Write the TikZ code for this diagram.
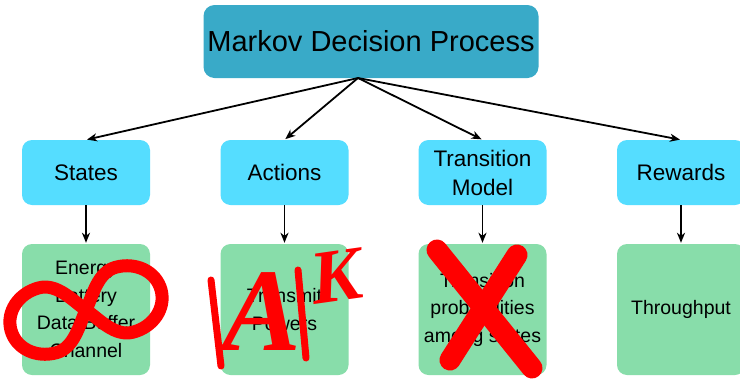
\documentclass[tikz,border=0pt]{standalone}
\usepackage{fontspec}
\setmainfont{Liberation Sans}
\newfontfamily\annfont{Liberation Serif}
\usetikzlibrary{arrows.meta}
\definecolor{titlecol}{HTML}{39AAC8}
\definecolor{rowcol}{HTML}{55DDFF}
\definecolor{leafcol}{HTML}{88DDAA}
\definecolor{inkred}{HTML}{FF0000}
\begin{document}
\begin{tikzpicture}[x=1pt,y=-1pt,
  titlebox/.style={fill=titlecol, rounded corners=11pt, minimum width=335pt, minimum height=73pt, inner sep=0pt, font=\fontsize{29}{34}\selectfont},
  catbox/.style={fill=rowcol, rounded corners=10pt, minimum width=128pt, minimum height=65pt, inner sep=0pt, align=center, font=\fontsize{22.5}{29}\selectfont},
  leafbox/.style={fill=leafcol, rounded corners=10pt, minimum width=128pt, minimum height=131pt, inner sep=0pt, align=center, font=\fontsize{19.5}{27.5}\selectfont},
  link/.style={line width=1.8pt, shorten >=1pt, -{Stealth[length=10pt,width=8pt,inset=3pt]}},
  ink/.style={draw=inkred, line cap=round, line join=round}
]
\useasboundingbox (0,0) rectangle (740,381);
\fill[white] (0,0) rectangle (740,381);

\node[titlebox] (mdp) at (371,41.5) {Markov Decision Process};

\node[catbox] (s) at (86,172.5) {States};
\node[catbox] (a) at (284.5,172.5) {Actions};
\node[catbox] (t) at (482.5,172.5) {Transition\\Model};
\node[catbox] (r) at (681,172.5) {Rewards};

\node[leafbox] (s3) at (86,309.5) {Energy\\Battery\\Data Buffer\\Channel};
\node[leafbox] (a3) at (284.5,309.5) {Transmit\\Powers};
\node[leafbox] (t3) at (482.5,309.5) {Transition\\probabilities\\among states};
\node[leafbox] (r3) at (681,309.5) {Throughput};

\coordinate (hub) at (358,78);
\draw[link] (hub) -- (s.north);
\draw[link] (hub) -- (a.north);
\draw[link] (hub) -- (t.north);
\draw[link] (hub) -- (r.north);

\draw[link] (s.south) -- (s3.north);
\draw[link] (a.south) -- (a3.north);
\draw[link] (t.south) -- (t3.north);
\draw[link] (r.south) -- (r3.north);

% red annotations
\begin{scope}[shift={(86,310)}, rotate=15, scale=1.05]
\draw[ink, line width=13pt]
  (0,0) .. controls (10,12) and (20,32) .. (38,32)
  .. controls (58,32) and (74,18) .. (74,0)
  .. controls (74,-18) and (58,-32) .. (38,-32)
  .. controls (20,-32) and (10,-12) .. (0,0)
  .. controls (-10,12) and (-20,32) .. (-38,32)
  .. controls (-58,32) and (-74,18) .. (-74,0)
  .. controls (-74,-18) and (-58,-32) .. (-38,-32)
  .. controls (-20,-32) and (-10,-12) .. (0,0);
\end{scope}

\draw[ink, line width=7pt] (211,280) -- (221,366);
\node[text=inkred, font=\annfont\bfseries\itshape\fontsize{118}{118}\selectfont, inner sep=0pt] (bigA) at (262,312) {A};
\draw[ink, line width=7pt] (298,270) -- (306,358);
\node[text=inkred, font=\annfont\bfseries\itshape\fontsize{76}{76}\selectfont, inner sep=0pt, rotate=8] (bigK) at (336,276) {K};

\draw[ink, line width=21pt] (437,250) -- (532,368);
\draw[ink, line width=21pt] (517,255) -- (450,360);
\end{tikzpicture}
\end{document}
